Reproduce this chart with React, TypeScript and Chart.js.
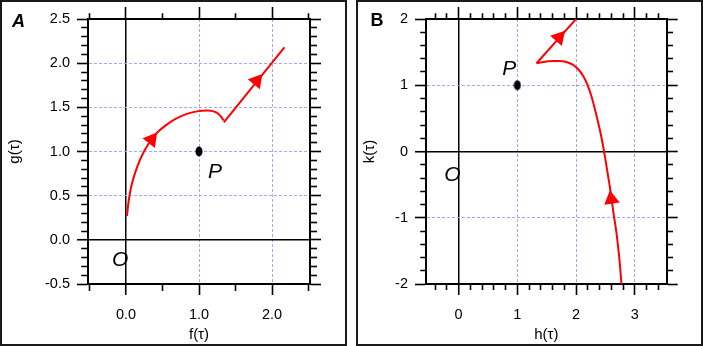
import React, { useEffect, useRef } from 'react';
import { Chart, registerables } from 'chart.js';

Chart.register(...registerables);

// ---------- Panel A data ----------
const A_ARC_F = [0.014, 0.027, 0.046, 0.078, 0.124, 0.183, 0.247, 0.33, 0.42, 0.535, 0.673, 0.833, 0.993, 1.13, 1.236, 1.3, 1.336];
const A_ARC_G = [0.27, 0.377, 0.49, 0.623, 0.755, 0.887, 1.0, 1.113, 1.208, 1.29, 1.366, 1.426, 1.457, 1.464, 1.442, 1.396, 1.351];
const A_LINE_F = [1.34, 2.17];
const A_LINE_G = [1.33, 2.18];
const A_ARROW_F = [0.35, 1.79];
const A_ARROW_G = [1.135, 1.8];
const A_ARROW_DF = [0.09, 1];
const A_ARROW_DG = [0.095, 1];
const A_P = [1.0, 1.0];
const A_X_LABELS = [0, 1, 2];
const A_Y_LABELS = [-0.5, 0, 0.5, 1, 1.5, 2, 2.5];
const A_X_GRID = [1, 2];
const A_Y_GRID = [0.5, 1, 1.5, 2];
const A_TEXT = ['P', 'O'];
const A_TEXT_F = [1.22, -0.08];
const A_TEXT_G = [0.77, -0.23];

// ---------- Panel B data ----------
const B_CURVE_H = [2.774, 2.734, 2.689, 2.638, 2.592, 2.547, 2.501, 2.462, 2.405, 2.331, 2.263, 2.195, 2.121, 2.036, 1.951, 1.838, 1.696, 1.526, 1.327];
const B_CURVE_K = [-2.0, -1.583, -1.231, -0.93, -0.628, -0.377, -0.126, 0.075, 0.327, 0.603, 0.829, 1.005, 1.141, 1.241, 1.307, 1.352, 1.367, 1.362, 1.332];
const B_LINE_H = [1.327, 2.0];
const B_LINE_K = [1.332, 2.0];
const B_ARROW_H = [2.6, 1.71];
const B_ARROW_K = [-0.72, 1.72];
const B_ARROW_DH = [-0.045, 1];
const B_ARROW_DK = [0.25, 1];
const B_P = [1.0, 1.0];
const B_X_LABELS = [0, 1, 2, 3];
const B_Y_LABELS = [-2, -1, 0, 1, 2];
const B_X_GRID = [1, 2, 3];
const B_Y_GRID = [-1, 1];
const B_TEXT = ['P', 'O'];
const B_TEXT_H = [0.86, -0.105];
const B_TEXT_K = [1.24, -0.35];

const FONT = '"Liberation Sans", Arial, Helvetica, sans-serif';
const RED = '#ff0000';
const GRID_COLOR = '#a6a6ff';

const near = (a: number, b: number) => Math.abs(a - b) < 1e-6;

function tickRange(min: number, max: number, step: number): number[] {
  const out: number[] = [];
  const start = Math.ceil(min / step - 1e-9);
  const end = Math.floor(max / step + 1e-9);
  for (let i = start; i <= end; i++) out.push(Math.round(i * step * 1e6) / 1e6);
  return out;
}

type AxisSpec = {
  position: 'left' | 'right' | 'top' | 'bottom';
  min: number; max: number; step: number; majorStep: number;
  tl: number; minor: number; size: number; area: boolean;
  labels?: number[]; fmt?: (v: number) => string; grid?: number[]; zero?: boolean;
  title?: string; titlePad?: number; labelPad?: number;
};

function buildAxis(s: AxisSpec) {
  const isMajor = (v: number) => near(v / s.majorStep, Math.round(v / s.majorStep));
  const isGrid = (v: number) => (s.grid || []).some((g) => near(g, v));
  const isZero = (v: number) => !!s.zero && near(v, 0);
  const horizontal = s.position === 'top' || s.position === 'bottom';
  const outerFirst = s.position === 'left' || s.position === 'top';
  return {
    type: 'linear',
    position: s.position,
    min: s.min,
    max: s.max,
    bounds: 'data',
    afterBuildTicks: (sc: any) => {
      sc.ticks = tickRange(s.min, s.max, s.step).map((v) => ({ value: v }));
    },
    afterFit: (sc: any) => {
      if (horizontal) sc.height = s.size; else sc.width = s.size;
    },
    ticks: {
      display: !!s.labels,
      autoSkip: false,
      maxRotation: 0,
      minRotation: 0,
      padding: s.labelPad ?? 7,
      color: '#000',
      font: { family: FONT, size: 14.5 },
      callback: (v: number) => {
        if (!s.labels) return '';
        const hit = s.labels.find((l) => near(l, v));
        return hit === undefined ? '' : (s.fmt ? s.fmt(hit) : String(hit));
      },
    },
    grid: {
      display: true,
      drawOnChartArea: s.area,
      drawTicks: true,
      tickLength: s.tl,
      color: (c: any) => {
        const v = c.tick?.value;
        if (v === undefined) return 'rgba(0,0,0,0)';
        if (isZero(v)) return '#000';
        if (isGrid(v)) return GRID_COLOR;
        return 'rgba(0,0,0,0)';
      },
      lineWidth: (c: any) => (c.tick && isZero(c.tick.value) ? 1.5 : 1),
      tickColor: '#000',
      tickWidth: 1.6,
      tickBorderDash: (c: any) => {
        const v = c.tick?.value;
        if (v === undefined || isMajor(v)) return [];
        return outerFirst ? [0, s.tl - s.minor - 0.75, 100] : [s.minor, 100];
      },
    },
    border: {
      display: true,
      color: '#000',
      width: 2,
      dash: (c: any) => (c.tick && isGrid(c.tick.value) && !isZero(c.tick.value) ? [3, 2] : []),
    },
    title: s.title
      ? {
          display: true,
          text: s.title,
          color: '#000',
          font: { family: FONT, size: 15 },
          padding: { top: s.titlePad ?? 0, bottom: s.titlePad ?? 0 },
        }
      : { display: false },
  };
}

function ellipseStyle(): HTMLCanvasElement {
  const c = document.createElement('canvas');
  c.width = 8;
  c.height = 11;
  const g = c.getContext('2d')!;
  g.fillStyle = '#000';
  g.beginPath();
  g.ellipse(4, 5.5, 3.5, 5, 0, 0, Math.PI * 2);
  g.fill();
  return c;
}

const pts = (xs: number[], ys: number[]) => xs.map((x, i) => ({ x, y: ys[i] }));

function arrowRotation(ax: number[], ay: number[], dx: number[], dy: number[]) {
  return (ctx: any) => {
    const ch = ctx.chart;
    const i = ctx.dataIndex;
    const xs = ch.scales.x;
    const ys = ch.scales.y;
    if (!xs || !ys || i === undefined || i >= ax.length) return 0;
    const x0 = xs.getPixelForValue(ax[i]);
    const y0 = ys.getPixelForValue(ay[i]);
    const x1 = xs.getPixelForValue(ax[i] + dx[i] * 0.1);
    const y1 = ys.getPixelForValue(ay[i] + dy[i] * 0.1);
    return (Math.atan2(x1 - x0, -(y1 - y0)) * 180) / Math.PI;
  };
}

function textPlugin(texts: string[], tx: number[], ty: number[], panel: string, panelFont: string, px: number, py: number) {
  return {
    id: 'texts' + panel,
    afterDraw(chart: any) {
      const { ctx } = chart;
      const xs = chart.scales.x;
      const ys = chart.scales.y;
      ctx.save();
      ctx.fillStyle = '#000';
      ctx.textAlign = 'center';
      ctx.textBaseline = 'middle';
      ctx.font = 'italic 21px ' + FONT;
      texts.forEach((t, i) => {
        ctx.fillText(t, xs.getPixelForValue(tx[i]), ys.getPixelForValue(ty[i]));
      });
      ctx.font = panelFont;
      ctx.fillText(panel, px, py);
      ctx.restore();
    },
  };
}

function lineDataset(data: any[]) {
  return {
    type: 'scatter',
    data,
    showLine: true,
    borderColor: RED,
    borderWidth: 2,
    pointRadius: 0,
    tension: 0.35,
    fill: false,
  };
}

function arrowDataset(ax: number[], ay: number[], dx: number[], dy: number[]) {
  return {
    type: 'scatter',
    data: pts(ax, ay),
    showLine: false,
    pointStyle: 'triangle',
    pointRadius: 9,
    pointBackgroundColor: RED,
    pointBorderColor: RED,
    pointBorderWidth: 0,
    pointRotation: arrowRotation(ax, ay, dx, dy),
  };
}

function pDataset(p: number[]) {
  return {
    type: 'scatter',
    data: [{ x: p[0], y: p[1] }],
    pointStyle: ellipseStyle(),
    pointRadius: 5,
  };
}

const baseOptions = {
  responsive: false,
  animation: false,
  devicePixelRatio: 1,
  events: [],
  layout: { padding: 0 },
  plugins: { legend: { display: false }, tooltip: { enabled: false } },
};

function configA(): any {
  const fmt = (v: number) => v.toFixed(1);
  return {
    type: 'scatter',
    data: {
      datasets: [
        lineDataset(pts(A_ARC_F, A_ARC_G)),
        lineDataset(pts(A_LINE_F, A_LINE_G)),
        arrowDataset(A_ARROW_F, A_ARROW_G, A_ARROW_DF, A_ARROW_DG),
        pDataset(A_P),
      ],
    },
    options: {
      ...baseOptions,
      scales: {
        x: buildAxis({ position: 'bottom', min: -0.52, max: 2.52, step: 0.5, majorStep: 1, tl: 11, minor: 6, size: 62, area: true, labels: A_X_LABELS, fmt, grid: A_X_GRID, zero: true, title: 'f(τ)', titlePad: 2, labelPad: 11 }),
        x2: buildAxis({ position: 'top', min: -0.52, max: 2.52, step: 0.5, majorStep: 1, tl: 12, minor: 5, size: 19, area: false }),
        y: buildAxis({ position: 'left', min: -0.5, max: 2.5, step: 0.1, majorStep: 0.5, tl: 11, minor: 6, size: 88, area: true, labels: A_Y_LABELS, fmt, grid: A_Y_GRID, zero: true, title: 'g(τ)', titlePad: 6, labelPad: 7 }),
        y2: buildAxis({ position: 'right', min: -0.5, max: 2.5, step: 0.1, majorStep: 0.5, tl: 11, minor: 6, size: 37, area: false }),
      },
    },
    plugins: [textPlugin(A_TEXT, A_TEXT_F, A_TEXT_G, 'A', 'italic bold 18px ' + FONT, 18.5, 22)],
  };
}

function configB(): any {
  return {
    type: 'scatter',
    data: {
      datasets: [
        lineDataset(pts(B_CURVE_H, B_CURVE_K)),
        lineDataset(pts(B_LINE_H, B_LINE_K)),
        arrowDataset(B_ARROW_H, B_ARROW_K, B_ARROW_DH, B_ARROW_DK),
        pDataset(B_P),
      ],
    },
    options: {
      ...baseOptions,
      scales: {
        x: buildAxis({ position: 'bottom', min: -0.556, max: 3.544, step: 0.2, majorStep: 1, tl: 11, minor: 5, size: 62, area: true, labels: B_X_LABELS, grid: B_X_GRID, zero: true, title: 'h(τ)', titlePad: 2, labelPad: 11 }),
        x2: buildAxis({ position: 'top', min: -0.556, max: 3.544, step: 0.2, majorStep: 1, tl: 12, minor: 5, size: 19, area: false }),
        y: buildAxis({ position: 'left', min: -2, max: 2, step: 0.2, majorStep: 1, tl: 11, minor: 5, size: 70, area: true, labels: B_Y_LABELS, grid: B_Y_GRID, zero: true, title: 'k(τ)', titlePad: 5, labelPad: 7 }),
        y2: buildAxis({ position: 'right', min: -2, max: 2, step: 0.2, majorStep: 1, tl: 11, minor: 5, size: 36.3, area: false }),
      },
    },
    plugins: [textPlugin(B_TEXT, B_TEXT_H, B_TEXT_K, 'B', 'bold 18px ' + FONT, 21, 21.5)],
  };
}

const panelStyle = (left: number): React.CSSProperties => ({
  position: 'absolute', left, top: 0, width: 347, height: 346,
});
const borderStyle: React.CSSProperties = {
  position: 'absolute', left: 0, top: 0, right: 0, bottom: 0,
  border: '2px solid #1a1a1a', boxSizing: 'border-box', pointerEvents: 'none',
};
const canvasStyle: React.CSSProperties = { position: 'absolute', left: 0, top: 0, width: 347, height: 346 };

export default function App() {
  const refA = useRef<HTMLCanvasElement>(null);
  const refB = useRef<HTMLCanvasElement>(null);
  useEffect(() => {
    const a = new Chart(refA.current as HTMLCanvasElement, configA());
    const b = new Chart(refB.current as HTMLCanvasElement, configB());
    return () => {
      a.destroy();
      b.destroy();
    };
  }, []);
  return (
    <div style={{ position: 'fixed', left: 0, top: 0, width: 703, height: 346, background: '#fff' }}>
      <div style={panelStyle(0)}>
        <canvas ref={refA} width={347} height={346} style={canvasStyle} />
        <div style={borderStyle} />
      </div>
      <div style={panelStyle(356)}>
        <canvas ref={refB} width={347} height={346} style={canvasStyle} />
        <div style={borderStyle} />
      </div>
    </div>
  );
}
